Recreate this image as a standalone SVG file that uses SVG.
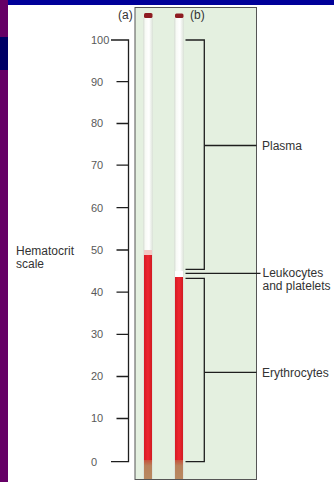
<svg xmlns="http://www.w3.org/2000/svg" width="334" height="482" viewBox="0 0 334 482">
  <defs>
    <style>
      .lbl { font-family: "Liberation Sans", Arial, sans-serif; font-size: 12px; fill: #333; }
      .num { font-family: "Liberation Sans", Arial, sans-serif; font-size: 11px; fill: #595959; }
      .ln { stroke: #1e1e1e; stroke-width: 1.3; fill: none; }
    </style>
    <linearGradient id="glass" x1="0" y1="0" x2="1" y2="0">
      <stop offset="0" stop-color="#d6ded3"/>
      <stop offset="0.25" stop-color="#f8faf6"/>
      <stop offset="0.6" stop-color="#ffffff"/>
      <stop offset="1" stop-color="#d9e1d6"/>
    </linearGradient>
    <linearGradient id="blood" x1="0" y1="0" x2="1" y2="0">
      <stop offset="0" stop-color="#d61a24"/>
      <stop offset="0.5" stop-color="#ee2630"/>
      <stop offset="1" stop-color="#d01a22"/>
    </linearGradient>
    <linearGradient id="plug" x1="0" y1="0" x2="0" y2="1">
      <stop offset="0" stop-color="#c8503a"/>
      <stop offset="0.3" stop-color="#b8805a"/>
      <stop offset="1" stop-color="#b88a60"/>
    </linearGradient>
    <filter id="soft" x="-20%" y="-20%" width="140%" height="140%">
      <feGaussianBlur stdDeviation="0.6"/>
    </filter>
  </defs>

  <!-- slide background -->
  <rect x="0" y="0" width="334" height="482" fill="#ffffff"/>
  <rect x="0" y="0" width="8" height="482" fill="#660066"/>
  <rect x="0" y="37" width="8" height="33" fill="#000066"/>
  <rect x="8" y="0" width="326" height="5" fill="#000099"/>

  <!-- specimen panel -->
  <rect id="panel" x="135" y="7.5" width="121.5" height="472" fill="#e4f0e0" stroke="#555" stroke-width="1"/>

  <!-- tube (a) -->
  <g id="tube-a">
    <rect x="143" y="18" width="10" height="461" fill="url(#glass)" filter="url(#soft)"/>
    <rect x="144" y="250" width="8" height="6" fill="#f4c8c4" filter="url(#soft)"/>
    <rect x="144" y="255" width="8" height="207" fill="url(#blood)"/>
    <rect x="144" y="460" width="8" height="19" fill="url(#plug)" filter="url(#soft)"/>
    <rect x="144" y="13" width="8.5" height="5" rx="1.5" fill="#8e1e22" filter="url(#soft)"/>
  </g>

  <!-- tube (b) -->
  <g id="tube-b">
    <rect x="174" y="18" width="10" height="461" fill="url(#glass)" filter="url(#soft)"/>
    <rect x="175" y="271" width="8" height="6" fill="#ffffff"/>
    <rect x="175" y="277" width="8" height="185" fill="url(#blood)"/>
    <rect x="175" y="460" width="8" height="19" fill="url(#plug)" filter="url(#soft)"/>
    <rect x="175" y="13.5" width="8.5" height="4.5" rx="1.5" fill="#8e1e22" filter="url(#soft)"/>
  </g>

  <text class="lbl" x="118" y="19">(a)</text>
  <text class="lbl" x="190" y="19">(b)</text>

  <!-- hematocrit scale -->
  <g id="scale">
    <text class="lbl" x="16" y="254.5">Hematocrit</text>
    <text class="lbl" x="16" y="267.5">scale</text>
    <text class="num" x="91" y="43.8">100</text>
    <text class="num" x="91" y="85.5">90</text>
    <text class="num" x="91" y="127.3">80</text>
    <text class="num" x="91" y="169">70</text>
    <text class="num" x="91" y="211.5">60</text>
    <text class="num" x="91" y="253.8">50</text>
    <text class="num" x="91" y="296">40</text>
    <text class="num" x="91" y="338">30</text>
    <text class="num" x="91" y="380.3">20</text>
    <text class="num" x="91" y="422.3">10</text>
    <text class="num" x="91" y="465.5">0</text>
  </g>

  <!-- connectors -->
  <g id="connectors" class="ln">
    <path d="M111 40 H128.5 V461.7 H111"/>
    <path d="M116.5 81.7 H128.5 M116.5 123.5 H128.5 M116.5 165.2 H128.5 M116.5 207.7 H128.5 M116.5 250 H128.5 M116.5 292.2 H128.5 M116.5 334.3 H128.5 M116.5 376.5 H128.5 M116.5 418.5 H128.5"/>
    <path d="M185.5 40 H204.3 V269.3 H185.5"/>
    <path d="M204.3 145.5 H256.5"/>
    <path d="M185.5 273.3 H260.5"/>
    <path d="M185.5 278.3 H204.3 V461.7 H185.5"/>
    <path d="M204.3 372.3 H256.5"/>
  </g>

  <!-- component labels -->
  <g id="plasma"><text class="lbl" x="262" y="150">Plasma</text></g>
  <g id="leukocytes">
    <text class="lbl" x="262.5" y="277">Leukocytes</text>
    <text class="lbl" x="262.5" y="290">and platelets</text>
  </g>
  <g id="erythrocytes"><text class="lbl" x="262" y="376.7">Erythrocytes</text></g>
</svg>
